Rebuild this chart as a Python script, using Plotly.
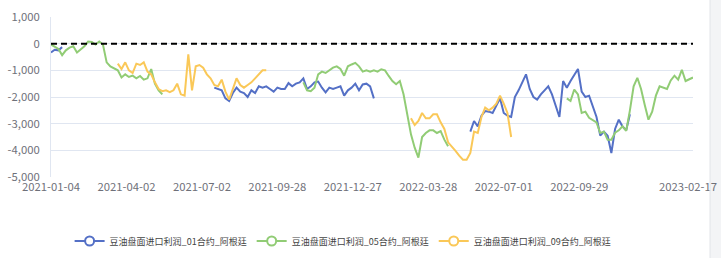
import pandas as pd
import plotly.graph_objects as go

# ---------------- data ----------------
holidays = [
    "2021-02-11", "2021-02-12", "2021-02-15",
    "2021-04-05", "2021-05-03", "2021-05-04", "2021-05-05",
    "2021-09-21",
    "2021-10-01", "2021-10-04", "2021-10-05",
    "2022-01-31", "2022-02-01", "2022-02-02", "2022-02-03",
    "2022-04-04", "2022-04-05", "2022-04-15", "2022-05-02", "2022-05-03",
    "2022-05-04", "2022-05-30", "2022-06-03",
    "2022-07-04", "2022-09-05", "2022-09-12",
    "2022-10-03", "2022-10-04", "2022-10-05", "2022-10-06", "2022-10-07",
    "2022-11-24", "2022-12-26", "2023-01-02",
    "2023-01-23", "2023-01-24", "2023-01-25", "2023-01-26", "2023-01-27",
]
dates = [d.strftime("%Y-%m-%d") for d in pd.bdate_range("2021-01-04", "2023-02-23")
         if d.strftime("%Y-%m-%d") not in holidays]

tick_dates = ["2021-01-04", "2021-04-02", "2021-07-02", "2021-09-28", "2021-12-27",
              "2022-03-28", "2022-07-01", "2022-09-29", "2023-02-17"]

y_tickvals = [1000, 0, -1000, -2000, -3000, -4000, -5000]
y_ticktext = ["1,000", "0", "-1,000", "-2,000", "-3,000", "-4,000", "-5,000"]

names = ["豆油盘面进口利润_01合约_阿根廷", "豆油盘面进口利润_05合约_阿根廷", "豆油盘面进口利润_09合约_阿根廷"]
colors = ["#5470c6", "#91cc75", "#fac858"]

step = 3  # values sampled every 3rd trading day

# contract 01 : (start category index, values)
c01_a_start, c01_a = 0, [-330, -230, -250, -130]
c01_b_start, c01_b = 132, [
    -1650, -1700, -1750, -2050, -2150, -1850, -1650, -1800, -1850, -2000,
    -1750, -1850, -1600, -1650, -1600, -1700, -1800, -1650, -1700, -1700,
    -1480, -1600, -1500, -1450, -1300, -1700, -1600, -1450, -1420, -1650,
    -1830, -1650, -1700, -1650, -1600, -1950, -1750, -1650, -1500, -1750,
    -1530, -1500, -1600, -2050]
c01_c_start, c01_c = 339, [
    -3300, -2900, -3100, -2700, -2530, -2550, -2600, -2350, -2050, -2600,
    -2700, -2750, -2000, -1750, -1450, -1150, -1700, -2000, -2100, -1900,
    -1750, -1600, -1900, -2300, -2750, -1400, -1650, -1400, -1150, -950,
    -1800, -2000, -1950, -2350, -2750, -3450, -3300, -3450, -4100, -3200,
    -2850, -3100, -3250, -2650]

# contract 05
c05_a_start, c05_a = 0, [
    -30, -100, -200, -430, -250, -150, -100, -330, -200, -100,
    80, 60, -30, 80, -30, -700, -850, -930, -1000, -1270,
    -1150, -1250, -1200, -1300, -1210, -1350, -1300, -950, -1500, -1750,
    -1900]
c05_b_start, c05_b = 204, [
    -1450, -1750, -1780, -1650, -1150, -1050, -1100, -1000, -900, -850,
    -950, -1200, -850, -780, -720, -850, -1050, -1000, -1050, -1000,
    -1050, -960, -1000, -1210, -1400, -1520, -1400, -1900, -2700, -3400,
    -3900, -4270, -3500, -3350, -3250, -3250, -3350, -3280, -3600, -3850]
c05_c_start, c05_c = 417, [
    -2050, -2150, -1720, -1900, -2600, -2550, -2780, -2850, -2950, -3350,
    -3300, -3600, -3600, -3340, -3250, -3100, -3270, -2500, -1600, -1280,
    -1700, -2300, -2850, -2550, -1950, -1600, -1650, -1700, -1380, -1200,
    -1350, -980, -1400, -1340, -1270]

# contract 09
c09_a_start, c09_a = 54, [
    -750, -950, -700, -1000, -1100, -750, -800, -700, -1050, -1150,
    -1450, -1700, -1780, -1750, -1820, -1750, -1500, -1900, -1950, -400,
    -1750, -850, -800, -900, -1150, -1300, -1550, -1600, -1350, -1800,
    -2100, -1700, -1300, -1550, -1650, -1550, -1450, -1300, -1150, -1000,
    -1000]
c09_b_start, c09_b = 291, [
    -2800, -3050, -2900, -2600, -2800, -2800, -2650, -2650, -2950, -3200,
    -3700, -3850, -4020, -4200, -4350, -4350, -4100, -3300, -3350, -2750,
    -2400, -2500, -2400, -2250, -1950, -2250, -2600, -3500]

baseline = 0

series = [
    [(c01_a_start, c01_a), (c01_b_start, c01_b), (c01_c_start, c01_c)],
    [(c05_a_start, c05_a), (c05_b_start, c05_b), (c05_c_start, c05_c)],
    [(c09_a_start, c09_a), (c09_b_start, c09_b)],
]

assert len(dates) == 520, len(dates)
assert [dates.index(t) for t in tick_dates[:-1]] == [61 * i for i in range(8)], \
    [dates.index(t) for t in tick_dates]

# ---------------- figure ----------------
fig = go.Figure()

grid_x = dates[::step]
for name, color, segs in zip(names, colors, series):
    yy = [None] * len(grid_x)
    for start, vals in segs:
        k0 = start // step
        for k, v in enumerate(vals):
            yy[k0 + k] = v
    fig.add_trace(go.Scatter(
        x=grid_x, y=yy, mode="lines", name=name, showlegend=False,
        line=dict(color=color, width=2), connectgaps=False, legendgroup=name,
    ))

fig.add_trace(go.Scatter(
    x=dates, y=[baseline] * len(dates), mode="lines", showlegend=False,
    line=dict(color="#000000", width=2, dash="6px,4px"), hoverinfo="skip",
))

for name, color in zip(names, colors):
    fig.add_trace(go.Scatter(
        x=[None], y=[None], mode="lines+markers", name=name, legendgroup=name,
        line=dict(color=color, width=2),
        marker=dict(symbol="circle", size=9, color="#ffffff",
                    line=dict(color=color, width=2)),
    ))

axis_font = dict(family="Noto Sans CJK SC, Noto Sans, sans-serif", size=11.3, color="#6E7079")

fig.update_layout(
    width=721, height=258,
    margin=dict(l=51, r=28, t=17, b=81, autoexpand=False),
    paper_bgcolor="#ffffff", plot_bgcolor="#ffffff",
    showlegend=True,
    legend=dict(orientation="h", x=0.455, xanchor="center", y=-0.40, yanchor="middle",
                font=dict(family="Noto Sans CJK SC, sans-serif", size=9, color="#444444"),
                itemwidth=30, tracegroupgap=0, bgcolor="rgba(0,0,0,0)"),
    xaxis=dict(type="category", categoryorder="array", categoryarray=dates,
               range=[0, len(dates) - 1], tickmode="array", tickvals=tick_dates,
               ticktext=tick_dates, showgrid=False, zeroline=False, showline=False,
               ticks="", tickfont=axis_font, ticklabelstandoff=2, automargin=False),
    yaxis=dict(range=[-5000, 1000], tickmode="array", tickvals=y_tickvals,
               ticktext=y_ticktext, showgrid=True, gridcolor="#E0E6F1", gridwidth=1,
               zeroline=False, showline=True, linecolor="#E0E6F1", linewidth=1,
               ticks="", tickfont=axis_font, ticklabelstandoff=8, automargin=False),
    shapes=[
        dict(type="rect", xref="paper", yref="paper", x0=1.0265, x1=1.06, y0=-0.6, y1=1.2,
             fillcolor="#f3f4f6", line=dict(width=0), layer="below"),
        dict(type="line", xref="paper", yref="paper", x0=1.0265, x1=1.0265, y0=-0.6, y1=1.2,
             line=dict(color="#e2e4e8", width=1)),
    ],
)

fig.write_html("out.html")
